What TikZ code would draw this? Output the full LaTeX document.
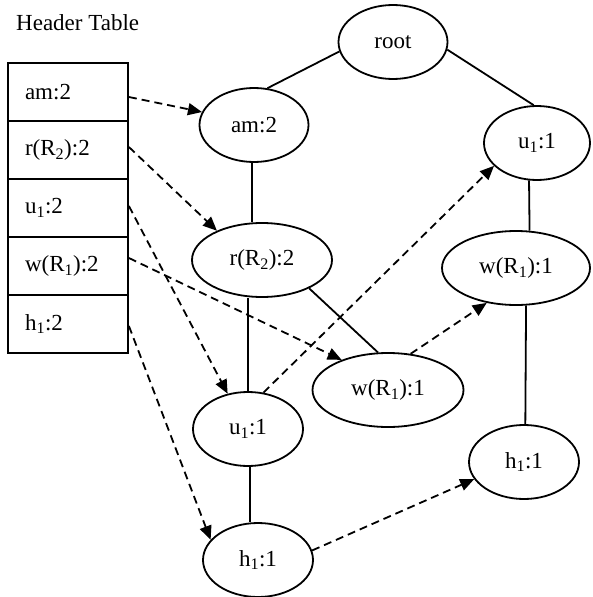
\documentclass[tikz,border=0pt]{standalone}
\usepackage{fontspec}
\setmainfont{Liberation Serif}
\usetikzlibrary{shapes.geometric,arrows.meta}
\begin{document}
\begin{tikzpicture}[x=1pt,y=-1pt,
  every node/.style={font=\fontsize{23}{27}\selectfont},
  treenode/.style={ellipse,draw,line width=1.8pt,inner sep=0pt,minimum height=74pt},
  rowbox/.style={rectangle,draw,line width=1.8pt,minimum width=120pt,minimum height=58pt,
    text width=86pt,inner xsep=17pt,inner ysep=0pt,align=left},
  edge/.style={line width=1.8pt},
  link/.style={line width=1.8pt,dash pattern=on 8pt off 5pt,-{Triangle[length=14pt,width=12pt]}}]
\useasboundingbox (0,0) rectangle (592,597);
\node[anchor=base west,inner sep=0pt] (title) at (16,30) {Header Table};
\node[rowbox] (t1) at (68,92) {am:2};
\node[rowbox] (t2) at (68,150) {r(R\textsubscript{2}):2};
\node[rowbox] (t3) at (68,208) {u\textsubscript{1}:2};
\node[rowbox] (t4) at (68,266) {w(R\textsubscript{1}):2};
\node[rowbox] (t5) at (68,324) {h\textsubscript{1}:2};
\node[treenode,minimum width=109pt] (root) at (393,42) {root};
\node[treenode,minimum width=109pt] (am) at (254,125) {am:2};
\node[treenode,minimum width=140pt] (r) at (262,260) {r(R\textsubscript{2}):2};
\node[treenode,minimum width=106pt] (u1r) at (537,143) {u\textsubscript{1}:1};
\node[treenode,minimum width=148pt] (wr) at (516,268) {w(R\textsubscript{1}):1};
\node[treenode,minimum width=151pt] (wm) at (388,390) {w(R\textsubscript{1}):1};
\node[treenode,minimum width=110pt] (um) at (248,429) {u\textsubscript{1}:1};
\node[treenode,minimum width=110pt] (hr) at (524,462) {h\textsubscript{1}:1};
\node[treenode,minimum width=110pt] (hb) at (258,560) {h\textsubscript{1}:1};
% tree edges
\draw[edge] (am.70) -- (root.190);
\draw[edge] (root.352) -- (u1r.95);
\draw[edge] ([xshift=-2pt]am.south) -- ([xshift=-2pt]am.south |- r.north);
\draw[edge] (um.north) -- (um.north |- r.south);
\draw[edge] (r.329) -- (wm.105);
\draw[edge] ([xshift=2pt]um.south) -- ([xshift=2pt]um.south |- hb.north);
\draw[edge] (u1r.258) -- (wr.70);
\draw[edge] (wr.285) -- (hr.88);
% node links
\draw[link] ([yshift=-5pt]t1.east) -- (am.166);
\draw[link] ([yshift=3pt]t2.east) -- (r.147);
\draw[link] ([yshift=2pt]t3.east) -- (um.120);
\draw[link] ([yshift=8pt]t4.east) -- (wm.147);
\draw[link] ([yshift=-2pt]t5.east) -- (hb.157);
\draw[link] (um.67) -- (u1r.208);
\draw[link] (wm.58) -- (wr.230);
\draw[link] (hb.10) -- (hr.199);
\end{tikzpicture}
\end{document}
